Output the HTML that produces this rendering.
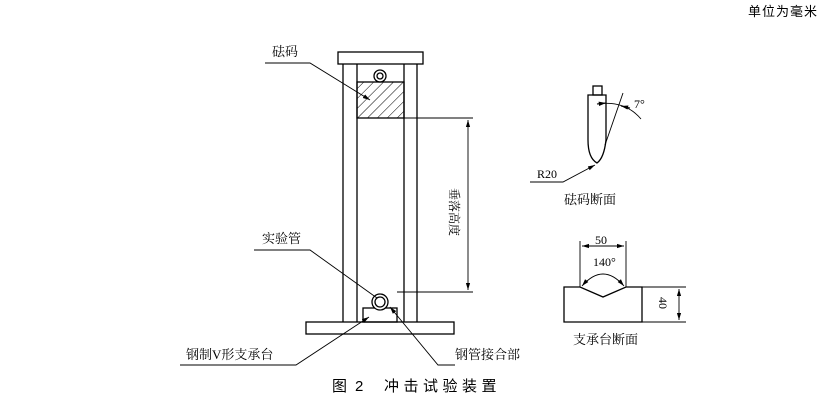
<!DOCTYPE html>
<html><head><meta charset="utf-8"><style>
body{margin:0;background:#fff;width:836px;height:402px;overflow:hidden}
svg text{font-family:"Liberation Serif","Noto Serif CJK SC",serif;fill:#000}
svg text.s{font-family:"Liberation Sans","Noto Sans CJK SC",sans-serif}
</style></head><body>
<svg width="836" height="402" viewBox="0 0 836 402" xmlns="http://www.w3.org/2000/svg">
<defs>
<pattern id="h" width="7" height="7" patternUnits="userSpaceOnUse" patternTransform="rotate(45)"><line x1="0" y1="0" x2="0" y2="7" stroke="#000" stroke-width="1"/></pattern>
<marker id="a" viewBox="0 0 10 10" refX="10" refY="5" markerWidth="8" markerHeight="8" orient="auto-start-reverse"><path d="M0,2 L10,5 L0,8z" fill="#000"/></marker>
</defs>
<g stroke="#000" fill="none" stroke-width="1.3">
<rect x="338" y="52" width="85" height="12"/>
<line x1="343" y1="64" x2="343" y2="322"/><line x1="357" y1="64" x2="357" y2="322"/>
<line x1="404" y1="64" x2="404" y2="322"/><line x1="417" y1="64" x2="417" y2="322"/>
<circle cx="380" cy="76" r="6"/><circle cx="380" cy="76" r="3"/>
<rect x="357" y="82" width="47" height="36" fill="url(#h)"/>
<rect x="306" y="322" width="148" height="12"/>
<rect x="363" y="308" width="34" height="14"/>
<circle cx="380" cy="302" r="8" fill="#fff"/><circle cx="380" cy="302" r="5"/>
</g>
<g stroke="#000" fill="none" stroke-width="0.9">
<line x1="404" y1="118" x2="473" y2="118"/>
<line x1="397" y1="292" x2="473" y2="292"/>
<line x1="468" y1="120" x2="468" y2="290" marker-start="url(#a)" marker-end="url(#a)"/>
<polyline points="265,63 310,63 370,100" marker-end="url(#a)"/>
<polyline points="254,250 310,250 377,298"/>
<polyline points="180,365 296,365 369,317" marker-end="url(#a)"/>
<polyline points="455,365 438,365 390,307" marker-end="url(#a)"/>
</g>
<text x="272" y="56" font-size="13">砝码</text>
<text x="262" y="243" font-size="13">实验管</text>
<text x="186" y="359" font-size="13">钢制V形支承台</text>
<text x="455" y="359" font-size="13">钢管接合部</text>
<text x="0" y="0" font-size="12" transform="translate(450,188) rotate(90)">垂落高度</text>
<g stroke="#000" fill="none" stroke-width="1.3">
<rect x="593" y="86" width="9" height="9"/>
<path d="M588,95 L606,95 L606,140 Q604,158 597,163 Q588,158 588,140 Z"/>
</g>
<g stroke="#000" fill="none" stroke-width="0.9">
<line x1="623" y1="93" x2="605" y2="145"/>
<path d="M597,104 Q625,100 641,119"/>
<line x1="597" y1="104" x2="606" y2="103" marker-end="url(#a)"/>
<line x1="630" y1="108" x2="621" y2="106" marker-end="url(#a)"/>
<polyline points="530,182 563,182 595,165" marker-end="url(#a)"/>
</g>
<text x="634" y="108" font-size="12">7°</text>
<text x="537" y="178" font-size="12">R20</text>
<text x="564" y="204" font-size="13">砝码断面</text>
<g stroke="#000" fill="none" stroke-width="1.3">
<path d="M564,287 L580,287 L603,297 L626,287 L642,287 L642,322 L564,322 Z"/>
</g>
<g stroke="#000" fill="none" stroke-width="0.9">
<line x1="580" y1="241" x2="580" y2="287"/><line x1="626" y1="241" x2="626" y2="287"/>
<line x1="582" y1="246" x2="624" y2="246" marker-start="url(#a)" marker-end="url(#a)"/>
<path d="M582,286 Q603,262 624,286" marker-start="url(#a)" marker-end="url(#a)"/>
<line x1="642" y1="287" x2="686" y2="287"/><line x1="642" y1="322" x2="686" y2="322"/>
<line x1="679" y1="289" x2="679" y2="320" marker-start="url(#a)" marker-end="url(#a)"/>
</g>
<text x="595" y="244" font-size="12">50</text>
<text x="593" y="266" font-size="12">140°</text>
<text x="0" y="0" font-size="12" transform="translate(659,297) rotate(90)">40</text>
<text x="573" y="344" font-size="13">支承台断面</text>
<text class="s" x="332" y="391" font-size="15" letter-spacing="4">图</text>
<text class="s" x="355" y="391" font-size="15">2</text>
<text class="s" x="384" y="391" font-size="15" letter-spacing="4.5">冲击试验装置</text>
<text class="s" x="748" y="16" font-size="13" letter-spacing="1">单位为毫米</text>
</svg>
</body></html>
